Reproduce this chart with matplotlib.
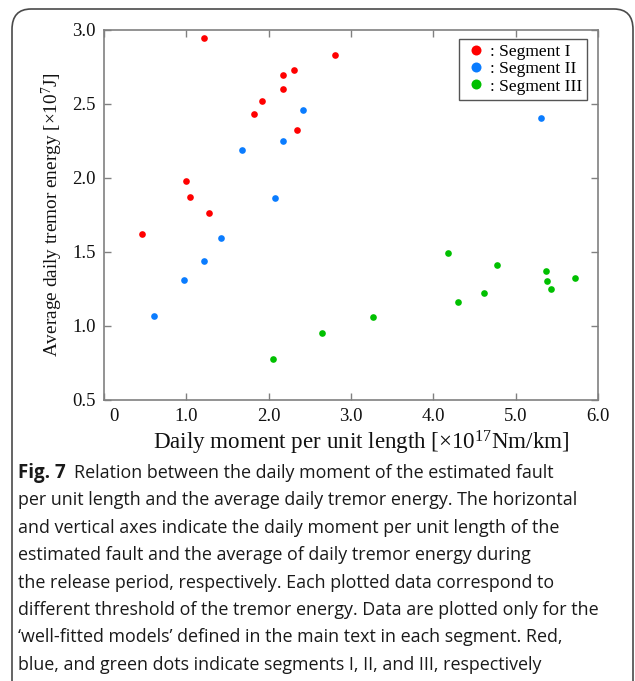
import matplotlib
matplotlib.use("Agg")
import matplotlib.pyplot as plt
import matplotlib.transforms as mtransforms
from matplotlib.patches import FancyBboxPatch

# ------------------------------------------------------------
# Data (x: 1e17 Nm/km, y: 1e7 J)
# ------------------------------------------------------------
seg1_x = [1.22, 2.18, 2.31, 2.18, 1.92, 1.82, 2.35, 1.00, 1.04, 1.27, 2.80, 0.46]
seg1_y = [2.94, 2.69, 2.73, 2.60, 2.52, 2.43, 2.32, 1.98, 1.87, 1.76, 2.83, 1.62]

seg2_x = [2.42, 2.18, 1.68, 2.08, 5.31, 1.42, 1.22, 0.97, 0.61]
seg2_y = [2.46, 2.25, 2.19, 1.86, 2.40, 1.59, 1.44, 1.31, 1.07]

seg3_x = [2.05, 2.65, 3.27, 4.18, 4.30, 4.62, 4.77, 5.37, 5.38, 5.43, 5.72]
seg3_y = [0.78, 0.95, 1.06, 1.49, 1.16, 1.22, 1.41, 1.37, 1.30, 1.25, 1.32]

x_ticks = [0, 1, 2, 3, 4, 5, 6]
x_ticklabels = ["0", "1.0", "2.0", "3.0", "4.0", "5.0", "6.0"]
y_ticks = [0.5, 1.0, 1.5, 2.0, 2.5, 3.0]
y_ticklabels = ["0.5", "1.0", "1.5", "2.0", "2.5", "3.0"]

caption_lines = [
    "per unit length and the average daily tremor energy. The horizontal",
    "and vertical axes indicate the daily moment per unit length of the",
    "estimated fault and the average of daily tremor energy during",
    "the release period, respectively. Each plotted data correspond to",
    "different threshold of the tremor energy. Data are plotted only for the",
    "\u2018well-fitted models\u2019 defined in the main text in each segment. Red,",
    "blue, and green dots indicate segments I, II, and III, respectively",
]

SERIF = "Liberation Serif"
SANS = "Open Sans"
SPINE = "#808080"
CAP_SIZE = 12.9

plt.rcParams["mathtext.fontset"] = "custom"
plt.rcParams["mathtext.rm"] = SERIF
plt.rcParams["mathtext.it"] = SERIF + ":italic"

fig = plt.figure(figsize=(6.35, 6.81), dpi=100)

# rounded frame around the figure panel
frame = FancyBboxPatch((12 / 635, -0.05), 621 / 635, (681 - 9) / 681 + 0.05,
                       boxstyle="round,pad=0,rounding_size=0.03",
                       transform=fig.transFigure, facecolor="none",
                       edgecolor="#4a4a4a", linewidth=1.2)
fig.add_artist(frame)

ax = fig.add_axes([104 / 635, 281 / 681, 494 / 635, 370.5 / 681])

ax.plot(seg1_x, seg1_y, "o", color="#ff0000", markersize=4.8, mew=0, label=": Segment I")
ax.plot(seg2_x, seg2_y, "o", color="#0a7cff", markersize=4.8, mew=0, label=": Segment II")
ax.plot(seg3_x, seg3_y, "o", color="#00c000", markersize=4.8, mew=0, label=": Segment III")

ax.set_xlim(0, 6)
ax.set_ylim(0.5, 3.0)
ax.set_xticks(x_ticks)
ax.set_xticklabels(x_ticklabels, fontfamily=SERIF, fontsize=13.5)
ax.set_yticks(y_ticks)
ax.set_yticklabels(y_ticklabels, fontfamily=SERIF, fontsize=13.5)
ax.tick_params(direction="in", length=5, width=1, color=SPINE,
               top=True, right=True, pad=6, labelcolor="#111111")

# the "0" label sits a little right of the axis in the original
zero = ax.get_xticklabels()[0]
zero.set_transform(zero.get_transform() +
                   mtransforms.ScaledTranslation(10 / 100, 0, fig.dpi_scale_trans))

for s in ax.spines.values():
    s.set_color(SPINE)
    s.set_linewidth(1.2)

ax.set_xlabel("Daily moment per unit length [\u00d710$^{17}$Nm/km]",
              fontfamily=SERIF, fontsize=16.6, color="#111111")
ax.xaxis.set_label_coords(0.521, -0.077)
ax.set_ylabel("Average daily tremor energy [\u00d710$^{7}$J]",
              fontfamily=SERIF, fontsize=13.9, labelpad=5, color="#111111")

leg = ax.legend(loc="upper right", bbox_to_anchor=(0.978, 0.975), borderaxespad=0,
                fancybox=False, edgecolor="#555555", framealpha=1,
                prop={"family": SERIF, "size": 12.6}, handletextpad=0.15,
                handlelength=1.3, labelspacing=0.05, borderpad=0.3,
                markerscale=1.5)
leg.get_frame().set_linewidth(1.0)

# caption
y0 = 681 - 473
bold = fig.text(18 / 635, y0 / 681, "Fig. 7", fontfamily=SANS, fontweight="bold",
                fontsize=CAP_SIZE + 0.6, va="center", ha="left", color="#1a1a1a")
cap_ax = fig.add_axes([0, 0, 1, 1], facecolor="none")
cap_ax.axis("off")
cap_ax.annotate("Relation between the daily moment of the estimated fault",
                xy=(1, 0.5), xycoords=bold, xytext=(6, 0), textcoords="offset points",
                va="center", ha="left", fontfamily=SANS, fontsize=CAP_SIZE, color="#1a1a1a")
for i, line in enumerate(caption_lines):
    fig.text(18 / 635, (y0 - 27.4 * (i + 1)) / 681, line, fontfamily=SANS,
             fontsize=CAP_SIZE, va="center", ha="left", color="#1a1a1a")

fig.savefig("out.png", dpi=100)
